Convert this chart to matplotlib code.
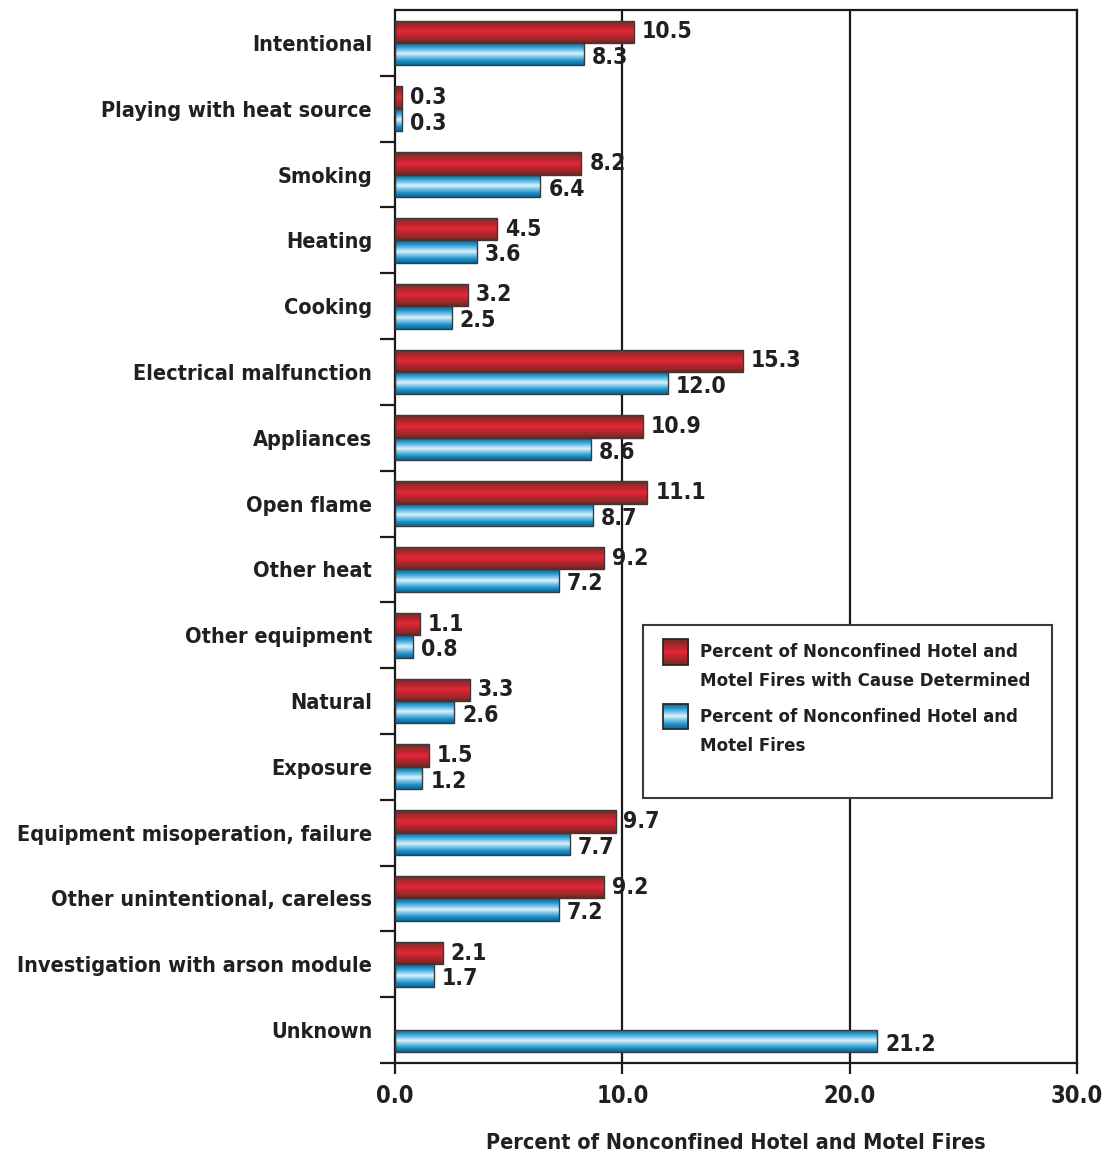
import numpy as np
import matplotlib
matplotlib.use("Agg")
import matplotlib.pyplot as plt
from matplotlib.colors import LinearSegmentedColormap
from matplotlib.patches import Rectangle

plt.rcParams['font.family'] = ['DejaVu Sans']
plt.rcParams['font.stretch'] = 'condensed'
plt.rcParams['font.weight'] = 'bold'
plt.rcParams['axes.labelweight'] = 'bold'

categories = [
    "Intentional", "Playing with heat source", "Smoking", "Heating", "Cooking",
    "Electrical malfunction", "Appliances", "Open flame", "Other heat",
    "Other equipment", "Natural", "Exposure", "Equipment misoperation, failure",
    "Other unintentional, careless", "Investigation with arson module", "Unknown",
]
cause_determined = [10.5, 0.3, 8.2, 4.5, 3.2, 15.3, 10.9, 11.1, 9.2, 1.1, 3.3,
                    1.5, 9.7, 9.2, 2.1, np.nan]
all_fires = [8.3, 0.3, 6.4, 3.6, 2.5, 12.0, 8.6, 8.7, 7.2, 0.8, 2.6, 1.2, 7.7,
             7.2, 1.7, 21.2]
x_ticks = [0, 10, 20, 30]
legend_lines = [
    ["Percent of Nonconfined Hotel and", "Motel Fires with Cause Determined"],
    ["Percent of Nonconfined Hotel and", "Motel Fires"],
]

TXT = "#231f20"
red_cmap = LinearSegmentedColormap.from_list(
    "red_tube", ["#722222", "#962b2d", "#c0252c", "#e4283a", "#c0252c", "#962b2d", "#722222"])
blue_cmap = LinearSegmentedColormap.from_list(
    "blue_tube", ["#0d6596", "#1a8cc4", "#6cc0e6", "#dcf2fb", "#6cc0e6", "#1a8cc4", "#0d6596"])

fig = plt.figure(figsize=(11.05, 11.59), dpi=100)
ax = fig.add_axes([395 / 1105, 1 - 1063 / 1159, (1077 - 395) / 1105, (1063 - 10) / 1159])

y = np.arange(len(categories))
h = 0.34
bars_r = ax.barh(y - h / 2, cause_determined, height=h, edgecolor="#3a3a3a",
                 linewidth=1.0, zorder=3)
bars_b = ax.barh(y + h / 2, all_fires, height=h, edgecolor="#3a3a3a",
                 linewidth=1.0, zorder=3)

grad = np.linspace(0, 1, 256).reshape(-1, 1)


def tube(patch, cmap, z=2.5):
    """Fill a rectangle with a horizontal-cylinder shading."""
    w = patch.get_width()
    if not np.isfinite(w) or w == 0:
        return
    x0, y0, hh = patch.get_x(), patch.get_y(), patch.get_height()
    im = ax.imshow(grad, cmap=cmap, extent=[x0, x0 + w, y0, y0 + hh],
                   aspect="auto", origin="lower", zorder=z,
                   interpolation="bilinear")
    im.set_clip_path(patch)
    patch.set_facecolor("none")


for bar in bars_r:
    tube(bar, red_cmap)
for bar in bars_b:
    tube(bar, blue_cmap)

for bar, v in zip(bars_r, cause_determined):
    if np.isfinite(v):
        ax.text(v + 0.35, bar.get_y() + bar.get_height() / 2, f"{v:.1f}",
                va="center", ha="left", fontsize=16.5, color=TXT, zorder=5)
for bar, v in zip(bars_b, all_fires):
    ax.text(v + 0.35, bar.get_y() + bar.get_height() / 2 + 0.05, f"{v:.1f}",
            va="center", ha="left", fontsize=16.5, color=TXT, zorder=5)

ax.set_xlim(0, 30)
ax.set_ylim(len(categories) - 0.5, -0.5)
ax.set_aspect("auto")

for gx in x_ticks[1:]:
    ax.axvline(gx, color="#1a1a1a", linewidth=1.6, zorder=1)

ax.set_xticks(x_ticks)
ax.set_xticklabels([f"{t:.1f}" for t in x_ticks], fontsize=17, color=TXT)
ax.tick_params(axis="x", direction="out", length=8, width=1.6, pad=7, color="#1a1a1a")
ax.set_yticks(y)
ax.set_yticklabels(categories, fontsize=15.6, color=TXT)
ax.tick_params(axis="y", which="major", length=0, pad=16.5)
ax.set_yticks(np.arange(-0.5, len(categories), 1.0)[1:], minor=True)
ax.tick_params(axis="y", which="minor", length=11, width=1.6, direction="out", color="#1a1a1a")

for s in ax.spines.values():
    s.set_linewidth(1.6)
    s.set_color("#1a1a1a")

ax.set_xlabel("Percent of Nonconfined Hotel and Motel Fires", fontsize=15.5,
              color=TXT, labelpad=18)

# legend panel, laid out in data units
ax.add_patch(Rectangle((10.91, 11.47), 17.99, -2.62, facecolor="white",
                       edgecolor="#3a3a3a", linewidth=1.5, zorder=6))
key_y = [9.06, 10.04]
for ky, cmap, lines in zip(key_y, [red_cmap, blue_cmap], legend_lines):
    key = Rectangle((11.79, ky), 1.10, 0.39, edgecolor="#2a2a2a",
                    linewidth=1.3, zorder=8)
    ax.add_patch(key)
    tube(key, cmap, z=7.5)
    for i, line in enumerate(lines):
        ax.text(13.42, ky + 0.2 + i * 0.44, line, va="center", ha="left",
                fontsize=13.3, color=TXT, zorder=8)

fig.savefig("out.png", dpi=100, facecolor="white")
